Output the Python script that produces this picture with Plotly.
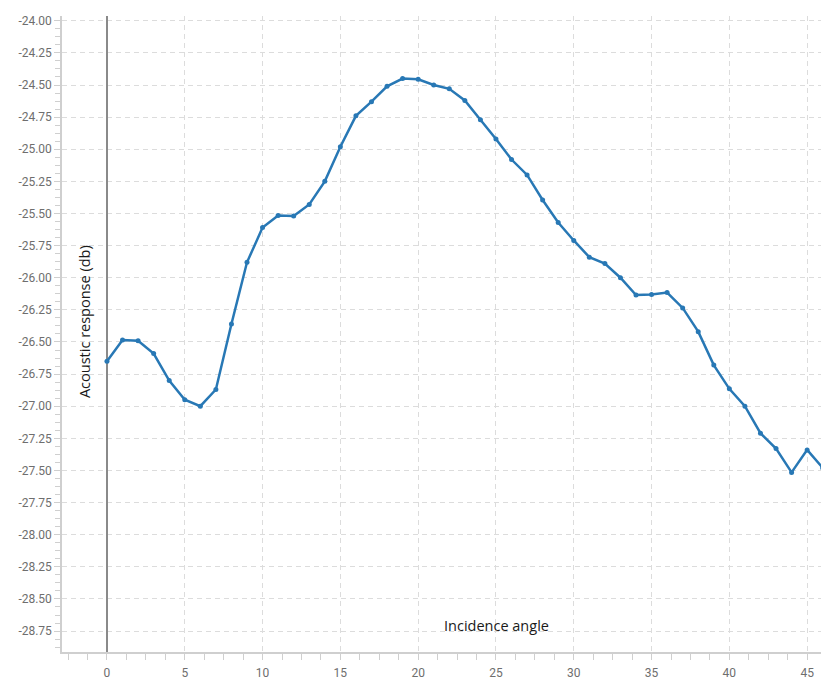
import plotly.graph_objects as go

# Incidence angle (degrees) and measured acoustic response (dB)
angles = list(range(0, 47))
response_db = [
    -26.65, -26.485, -26.49, -26.59, -26.80, -26.95, -27.00, -26.87, -26.36, -25.88,
    -25.61, -25.515, -25.52, -25.43, -25.25, -24.98, -24.74, -24.63, -24.51, -24.45,
    -24.455, -24.50, -24.53, -24.62, -24.77, -24.92, -25.08, -25.20, -25.395, -25.57,
    -25.71, -25.84, -25.89, -26.00, -26.135, -26.13, -26.115, -26.235, -26.42, -26.68,
    -26.865, -27.00, -27.21, -27.33, -27.515, -27.34, -27.48,
]

x_ticks = [0, 5, 10, 15, 20, 25, 30, 35, 40, 45]
y_ticks = [-24.00, -24.25, -24.50, -24.75, -25.00, -25.25, -25.50, -25.75, -26.00, -26.25,
           -26.50, -26.75, -27.00, -27.25, -27.50, -27.75, -28.00, -28.25, -28.50, -28.75]
y_tick_text = [f"{v:.2f}" for v in y_ticks]

x_title = "Incidence angle"
y_title = "Acoustic response (db)"

line_color = "#2878b5"
grid_color = "#dcdcdc"
axis_color = "#cfcfcf"
tick_font = dict(family="Roboto, sans-serif", size=12, color="#6e6e6e")
title_font = dict(family="Open Sans, sans-serif", size=14.5, color="#1a1a1a")

fig = go.Figure()
fig.add_trace(go.Scatter(
    x=angles,
    y=response_db,
    mode="lines+markers",
    line=dict(color=line_color, width=2.5),
    marker=dict(color=line_color, size=5),
    hoverinfo="x+y",
    showlegend=False,
))

fig.update_xaxes(
    range=[-2.89, 45.89],
    automargin=False,
    tickmode="array",
    tickvals=x_ticks,
    ticktext=[str(v) for v in x_ticks],
    ticks="outside",
    ticklen=6,
    ticklabelstandoff=3,
    tickcolor=axis_color,
    tickfont=tick_font,
    showline=True,
    linecolor=axis_color,
    linewidth=1.5,
    showgrid=True,
    gridcolor=grid_color,
    griddash="5px,4px",
    gridwidth=1,
    zeroline=True,
    zerolinecolor="#8a8a8a",
    zerolinewidth=2,
    minor=dict(dtick=1.25, tick0=0, ticks="outside", ticklen=6,
               tickcolor=axis_color, showgrid=False),
)

fig.update_yaxes(
    range=[-28.913, -23.963],
    automargin=False,
    tickmode="array",
    tickvals=y_ticks,
    ticktext=y_tick_text,
    ticks="outside",
    ticklen=6,
    tickcolor=axis_color,
    tickfont=tick_font,
    showline=True,
    linecolor=axis_color,
    linewidth=1.5,
    showgrid=True,
    gridcolor=grid_color,
    griddash="5px,4px",
    gridwidth=1,
    zeroline=False,
    minor=dict(dtick=0.0625, tick0=-24, ticks="outside", ticklen=5,
               tickcolor=axis_color, showgrid=False),
)

fig.add_annotation(
    text=x_title, xref="paper", yref="paper", x=0.572, y=0.042,
    xanchor="center", yanchor="middle", showarrow=False, font=title_font,
)
fig.add_annotation(
    text=y_title, xref="paper", yref="paper", x=0.030, y=0.52,
    xanchor="center", yanchor="middle", textangle=-90, showarrow=False, font=title_font,
)

fig.update_layout(
    width=821,
    height=677,
    margin=dict(l=62, r=0, t=16, b=25),
    paper_bgcolor="white",
    plot_bgcolor="white",
)

fig.write_html("out.html")
